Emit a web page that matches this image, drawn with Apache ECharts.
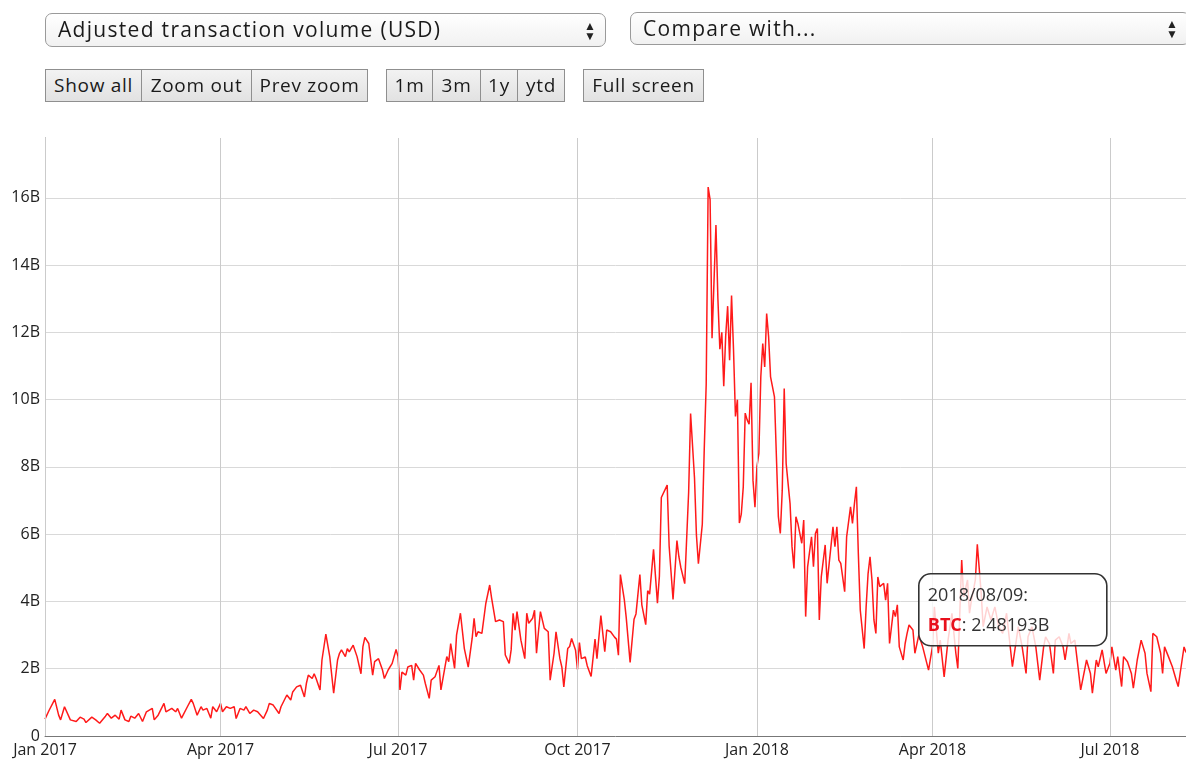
<!DOCTYPE html>
<html>
<head>
<meta charset="utf-8">
<script src="https://cdn.jsdelivr.net/npm/echarts@6/dist/echarts.min.js"></script>
<style>
  html, body { margin:0; padding:0; background:#fff; width:1186px; height:761px; overflow:hidden; }
  #chart { position:absolute; left:0; top:0; width:1186px; height:761px; }
  .sel { position:absolute; box-sizing:border-box; border:1px solid #9a9a9a; border-radius:7px;
         background:linear-gradient(#ffffff,#f1f1f1); font-family:"Open Sans",sans-serif; font-size:21px;
         letter-spacing:1.3px; color:#1a1a1a; line-height:31px; padding-left:12px; z-index:5; white-space:nowrap; overflow:hidden; }
  .arr { position:absolute; top:7px; width:12px; font-size:12px; line-height:10px; color:#222; text-align:center; letter-spacing:0; }
  .btn { position:absolute; top:69px; height:33px; box-sizing:border-box; border:1px solid #8f8f8f;
         background:linear-gradient(#f2f2f2,#e2e2e2); font-family:"Open Sans",sans-serif; font-size:19px;
         letter-spacing:0.7px; color:#1a1a1a; line-height:31px; text-align:center; z-index:5; white-space:nowrap; }
</style>
</head>
<body>
<div id="chart"></div>
<div class="sel" style="left:45px;top:13px;width:561px;height:34px;">Adjusted transaction volume (USD)<div class="arr" style="left:538px;">▲<br>▼</div></div>
<div class="sel" style="left:630px;top:12px;width:560px;height:33px;line-height:30px;">Compare with...<div class="arr" style="left:535px;top:6px;">▲<br>▼</div></div>
<div class="btn" style="left:45px;width:97px;">Show all</div>
<div class="btn" style="left:141px;width:111px;">Zoom out</div>
<div class="btn" style="left:251px;width:117px;">Prev zoom</div>
<div class="btn" style="left:386px;width:47px;">1m</div>
<div class="btn" style="left:432px;width:49px;">3m</div>
<div class="btn" style="left:480px;width:38px;">1y</div>
<div class="btn" style="left:517px;width:48px;">ytd</div>
<div class="btn" style="left:583px;width:121px;">Full screen</div>
<script>
// Day offsets from 2017-01-01 and adjusted transaction volume in billions USD
const START_DATE = '2017-01-01';
const END_DATE = '2018-08-09';
const q1_2017 = [[0,0.50],[2,0.75],[5,1.09],[7,0.62],[8,0.48],[10,0.87],[13,0.48],[14,0.53],[16,0.43],[18,0.56],[20,0.50],[21,0.40],[24,0.56],[26,0.48],[28,0.38],[31,0.59],[32,0.67],[34,0.53],[36,0.62],[38,0.50],[39,0.77],[41,0.48],[43,0.43],[44,0.59],[46,0.53],[48,0.67],[50,0.43],[52,0.72],[55,0.82],[56,0.48],[58,0.62],[61,0.97],[62,0.72],[65,0.82],[67,0.72],[68,0.82],[70,0.53],[73,0.87],[75,1.09],[76,0.97],[78,0.62],[80,0.87],[81,0.77],[83,0.82],[85,0.53],[86,0.87],[88,0.72]];
const q2_2017 = [[90,0.97],[91,0.72],[93,0.87],[95,0.82],[97,0.87],[98,0.52],[100,0.82],[102,0.77],[103,0.87],[105,0.67],[107,0.77],[109,0.72],[112,0.52],[114,0.77],[115,0.97],[117,0.92],[120,0.67],[121,0.87],[124,1.22],[126,1.07],[127,1.31],[129,1.46],[131,1.51],[133,1.16],[134,1.56],[135,1.81],[137,1.71],[138,1.85],[139,1.71],[141,1.37],[142,2.26],[144,3.03],[146,2.36],[148,1.27],[150,2.26],[151,2.46],[152,2.56],[154,2.36],[155,2.6],[156,2.5],[158,2.7],[160,2.36],[162,1.85],[163,2.66],[164,2.93],[166,2.75],[168,1.81],[169,2.21],[171,2.3],[173,1.97],[174,1.71],[176,1.97],[178,2.16],[180,2.57]];
const q3_2017 = [[181,2.36],[182,1.37],[183,1.9],[185,1.81],[186,2.05],[188,2.1],[189,1.66],[190,2.16],[192,1.97],[194,1.81],[195,1.56],[197,1.12],[198,1.66],[200,1.76],[202,2.1],[203,1.37],[206,2.36],[207,2.21],[208,2.75],[210,2.01],[211,3.0],[213,3.65],[215,2.6],[217,2.05],[219,2.9],[220,3.5],[221,2.95],[222,3.1],[224,3.05],[226,3.94],[228,4.49],[229,4.09],[231,3.4],[233,3.45],[235,3.4],[236,2.41],[238,2.16],[239,2.56],[240,3.65],[241,3.15],[242,3.7],[244,2.85],[246,2.3],[247,3.65],[248,3.35],[250,3.5],[251,3.74],[252,2.46],[253,3.1],[254,3.7],[256,3.2],[258,3.1],[259,1.66],[261,2.46],[262,3.1],[264,2.3],[265,2.05],[266,1.46],[268,2.6],[269,2.66],[270,2.9],[272,2.56]];
const q4_2017 = [[273,1.98],[274,2.78],[275,2.3],[277,2.35],[278,2.09],[280,1.77],[282,2.88],[283,2.3],[285,3.58],[287,2.51],[288,3.15],[290,3.1],[292,2.94],[293,2.88],[294,2.4],[295,4.8],[297,4.06],[298,3.52],[300,2.19],[302,3.47],[303,3.63],[305,4.8],[306,3.9],[308,3.31],[309,4.32],[310,4.22],[312,5.55],[314,3.95],[315,4.75],[316,7.09],[319,7.46],[320,5.65],[322,4.06],[324,5.81],[325,5.33],[326,5.01],[328,4.53],[330,7.25],[331,9.59],[333,7.68],[334,5.97],[335,5.12],[337,6.29],[338,8.53],[339,10.45],[340,16.32],[341,15.95],[342,11.83],[344,15.19],[345,13.0],[346,11.5],[347,12.0],[348,10.4],[349,11.9],[350,12.78],[351,11.17],[352,13.1],[353,11.5],[354,9.5],[355,10.0],[356,6.33],[357,6.6],[358,7.4],[359,9.6],[360,9.4],[361,9.27],[362,10.5],[363,7.6],[364,6.8]];
const q1_2018 = [[365,8.0],[366,8.4],[367,10.68],[368,11.67],[369,10.97],[370,12.56],[371,11.87],[372,10.68],[374,10.08],[375,8.3],[376,6.52],[377,6.02],[378,7.31],[379,10.33],[380,8.1],[382,6.91],[383,5.63],[384,4.98],[385,6.52],[386,6.32],[388,5.73],[389,6.42],[390,3.55],[391,5.03],[393,5.92],[394,5.03],[395,6.02],[396,6.17],[397,3.45],[398,4.73],[400,5.68],[401,4.54],[402,4.54],[404,6.22],[405,5.63],[406,6.22],[407,5.23],[408,5.13],[410,4.29],[411,5.92],[413,6.81],[414,6.32],[415,6.91],[416,7.41],[417,5.43],[418,3.74],[420,2.6],[421,3.84],[422,4.83],[423,5.33],[424,4.64],[425,3.45],[426,3.05],[427,4.73],[428,4.44],[430,4.54],[431,4.04],[432,4.54],[433,2.75],[434,2.8],[435,3.74],[436,3.55],[437,3.9],[438,2.65],[440,2.26],[441,2.75],[442,3.05],[443,3.3],[445,3.15],[446,2.46],[448,3.0],[450,2.65],[453,1.96]];
const q2_2018 = [[455,2.65],[456,3.84],[458,2.46],[459,2.85],[461,1.76],[463,2.85],[465,3.65],[467,2.46],[468,2.01],[470,5.23],[471,4.14],[473,4.64],[474,3.65],[475,4.04],[477,4.64],[478,5.7],[480,4.24],[481,3.25],[483,3.84],[485,3.45],[487,3.84],[489,3.25],[491,3.05],[493,3.65],[496,2.06],[498,2.85],[499,3.25],[501,2.65],[503,1.86],[504,2.95],[506,3.25],[508,2.65],[510,1.66],[512,2.65],[513,2.95],[515,2.75],[517,1.86],[518,2.85],[520,2.95],[522,2.65],[523,2.26],[525,3.05],[526,2.75],[528,2.85],[529,2.36],[531,1.37],[533,1.96],[534,2.26],[536,1.86],[537,1.27],[539,2.26],[540,2.06],[542,2.56],[544,1.86]];
const q3_2018 = [[546,2.16],[547,2.65],[549,1.96],[550,2.36],[552,1.47],[553,2.36],[555,2.21],[557,1.86],[558,1.42],[560,2.26],[562,2.85],[564,2.46],[565,1.86],[567,1.32],[568,3.05],[570,2.95],[572,2.46],[573,1.86],[574,2.65],[576,2.36],[578,2.06],[580,1.66],[581,1.47],[583,2.26],[584,2.65],[585,2.48]];

const quarterTicks = ['2017-01-01','2017-04-01','2017-07-01','2017-10-01','2018-01-01','2018-04-01','2018-07-01'];
const quarterLabels = ['Jan 2017','Apr 2017','Jul 2017','Oct 2017','Jan 2018','Apr 2018','Jul 2018'];
const yTicks = [0,2,4,6,8,10,12,14,16]; // billions
const Y_MAX_B = 17.78;
const tooltipDate = '2018/08/09:';
const tooltipSeries = 'BTC';
const tooltipValue = '2.48193B';

const DAY = 86400000;
const startTs = new Date(START_DATE + 'T00:00:00').getTime();
const endTs = new Date(END_DATE + 'T00:00:00').getTime();
const seriesData = [].concat(q1_2017, q2_2017, q3_2017, q4_2017, q1_2018, q2_2018, q3_2018)
  .map(p => [startTs + p[0] * DAY, p[1] * 1e9]);

const chart = echarts.init(document.getElementById('chart'), null, {renderer:'canvas'});
const FONT = '"Open Sans", sans-serif';
chart.setOption({
  animation: false,
  backgroundColor: '#ffffff',
  grid: { left: 45, right: 0, top: 138, bottom: 25, containLabel: false },
  xAxis: {
    type: 'time', min: startTs, max: endTs,
    axisLine: { show: true, lineStyle: { color: '#777', width: 1 } },
    axisTick: { show: false }, axisLabel: { show: false }, splitLine: { show: false }
  },
  yAxis: {
    type: 'value', min: 0, max: Y_MAX_B * 1e9, interval: 2e9,
    axisLine: { show: true, lineStyle: { color: '#777', width: 1 } },
    axisTick: { show: false },
    axisLabel: {
      showMaxLabel: false, margin: 5, color: '#222', fontFamily: FONT, fontSize: 16,
      formatter: v => { const b = Math.round(v / 1e9); return yTicks.indexOf(b) < 0 || Math.abs(v/1e9 - b) > 1e-6 ? '' : (b === 0 ? '0' : b + 'B'); }
    },
    splitLine: { show: true, showMinLine: false, showMaxLine: false, lineStyle: { color: '#d9d9d9', width: 1 } }
  },
  series: [
    {
      name: 'quarters', type: 'line', data: [], z: 1, silent: true,
      markLine: {
        silent: true, symbol: ['none','none'], animation: false,
        lineStyle: { color: '#cbcbcb', width: 1, type: 'solid' },
        label: { show: true, position: 'start', distance: 6, color: '#222', fontFamily: FONT, fontSize: 16 },
        emphasis: { disabled: true },
        data: quarterTicks.map((d, i) => ({
          xAxis: new Date(d + 'T00:00:00').getTime(),
          label: { formatter: quarterLabels[i] }
        }))
      }
    },
    {
      name: 'BTC', type: 'line', data: seriesData, z: 3,
      showSymbol: false, symbol: 'none', smooth: false,
      lineStyle: { color: '#ff1a1a', width: 1.5 }
    }
  ],
  graphic: [{
    type: 'group', left: 918, top: 573, z: 100, zlevel: 1,
    children: [
      { type: 'rect', z: 100, zlevel: 1, shape: { x: 0, y: 0, width: 188, height: 72, r: 12 },
        style: { fill: 'rgba(255,255,255,0.8)', stroke: '#333', lineWidth: 1.6 } },
      { type: 'text', z: 101, zlevel: 1, x: 9, y: 13,
        style: { text: tooltipDate, fill: '#333', font: '18px "Open Sans", sans-serif' } },
      { type: 'text', z: 101, zlevel: 1, x: 9, y: 43,
        style: { text: '{b|' + tooltipSeries + '}: ' + tooltipValue, fill: '#333', font: '18px "Open Sans", sans-serif',
                 rich: { b: { fill: '#e8101c', fontWeight: 'bold', fontSize: 18, fontFamily: '"Open Sans", sans-serif' } } } }
    ]
  }]
});
</script>
</body>
</html>
